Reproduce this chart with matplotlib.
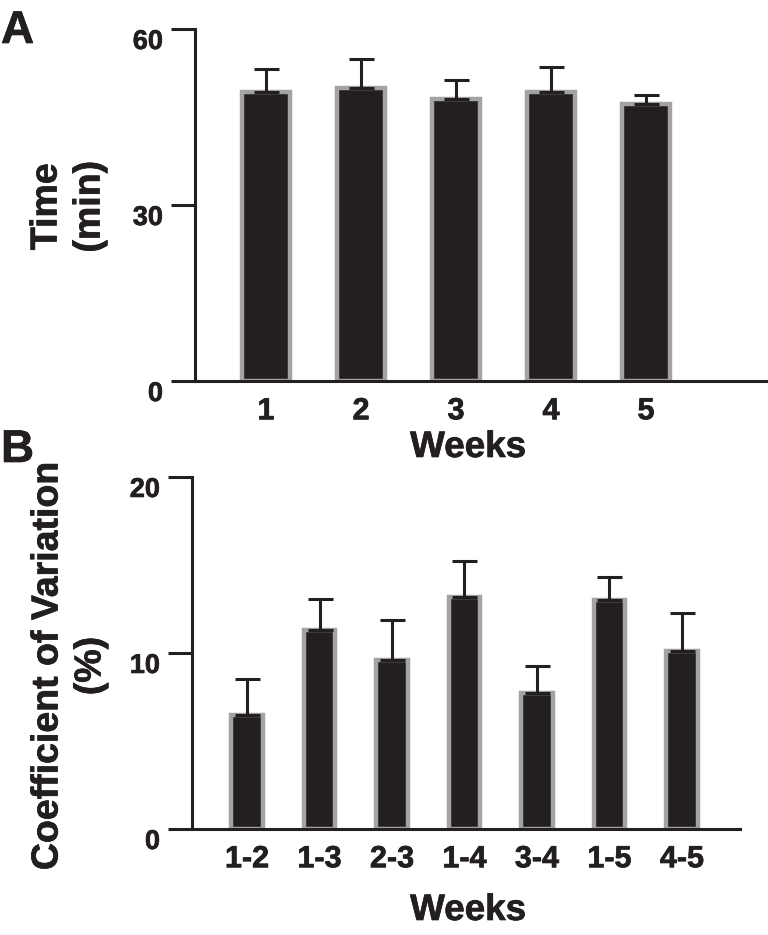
import matplotlib
matplotlib.use('Agg')
import matplotlib.pyplot as plt
import matplotlib.patheffects as pe
import numpy as np

# Painel A - tempo por semana
semanas = ['1', '2', '3', '4', '5']
tempo_media = [49.3, 50.0, 48.0, 49.3, 47.2]
tempo_erro = [3.9, 4.9, 3.3, 4.3, 1.5]

# Painel B - coeficiente de variação entre semanas
pares = ['1-2', '1-3', '2-3', '1-4', '3-4', '1-5', '4-5']
cv_media = [6.5, 11.3, 9.6, 13.2, 7.75, 13.0, 10.1]
cv_erro = [2.0, 1.75, 2.3, 2.05, 1.5, 1.3, 2.15]

plt.rcParams['font.family'] = ['Liberation Sans', 'DejaVu Sans']
plt.rcParams['font.weight'] = 'bold'

cor_barra = '#231f20'
cor_borda = '#a3a3a3'

# contorno fino para deixar o texto um pouco mais pesado, como no original
grosso = [pe.withStroke(linewidth=0.5, foreground=cor_barra)]

fig = plt.figure(figsize=(7.68, 9.35), dpi=100)
ax_a = fig.add_axes([0.2539, 0.5925, 0.7461, 0.3765])
ax_b = fig.add_axes([0.25, 0.1134, 0.7135, 0.3765])


def desenha_painel(ax, rotulos, medias, erros, largura, xlim, yticks):
    x = np.arange(1, len(rotulos) + 1)
    ax.bar(x, medias, width=largura, color=cor_barra, edgecolor=cor_borda,
           linewidth=3.2, zorder=2)
    ax.errorbar(x, medias, yerr=[np.zeros(len(erros)), erros], fmt='none',
                ecolor=cor_barra, elinewidth=2.2, capsize=9, capthick=2.2,
                zorder=3)
    ax.set_xlim(*xlim)
    ax.set_ylim(yticks[0], yticks[-1])
    ax.set_xticks(x)
    ax.set_xticklabels(rotulos, fontsize=22, fontweight='bold',
                       color=cor_barra)
    ax.set_yticks(yticks)
    ax.set_yticklabels([str(t) for t in yticks], fontsize=19.5,
                       fontweight='bold', va='top', color=cor_barra)
    for t in ax.get_xticklabels() + ax.get_yticklabels():
        t.set_path_effects(grosso)
    ax.tick_params(axis='x', length=0, pad=11)
    ax.tick_params(axis='y', length=17, width=2.2, pad=6, color=cor_barra)
    for lado in ['top', 'right']:
        ax.spines[lado].set_visible(False)
    for lado in ['left', 'bottom']:
        ax.spines[lado].set_linewidth(2.2)
        ax.spines[lado].set_color(cor_barra)
        ax.spines[lado].set_zorder(4)


desenha_painel(ax_a, semanas, tempo_media, tempo_erro, 0.505,
               (0.253, 6.284), [0, 30, 60])
desenha_painel(ax_b, pares, cv_media, cv_erro, 0.44,
               (0.241, 7.8), [0, 10, 20])

# Rótulos dos eixos
ax_a.text(-0.2216, 0.495, 'Time\n(min)', transform=ax_a.transAxes,
          rotation=90, ha='center', va='center', fontsize=27,
          fontweight='bold', linespacing=1.25, color=cor_barra,
          path_effects=grosso)
ax_b.text(-0.2245, 0.463, 'Coefficient of Variation\n(%)',
          transform=ax_b.transAxes, rotation=90, ha='center', va='center',
          fontsize=27, fontweight='bold', linespacing=1.25, color=cor_barra,
          path_effects=grosso)

fig.text(468 / 768, 1 - 457 / 935, 'Weeks', ha='center', va='baseline',
         fontsize=26.5, fontweight='bold', color=cor_barra,
         path_effects=grosso)
fig.text(468 / 768, 1 - 920 / 935, 'Weeks', ha='center', va='baseline',
         fontsize=26.5, fontweight='bold', color=cor_barra,
         path_effects=grosso)

# Letras dos painéis
fig.text(1 / 768, 1 - 43 / 935, 'A', ha='left', va='baseline', fontsize=33,
         fontweight='bold', color=cor_barra, path_effects=grosso)
fig.text(1 / 768, 1 - 462 / 935, 'B', ha='left', va='baseline', fontsize=33,
         fontweight='bold', color=cor_barra, path_effects=grosso)

plt.savefig('out.png', dpi=100)
